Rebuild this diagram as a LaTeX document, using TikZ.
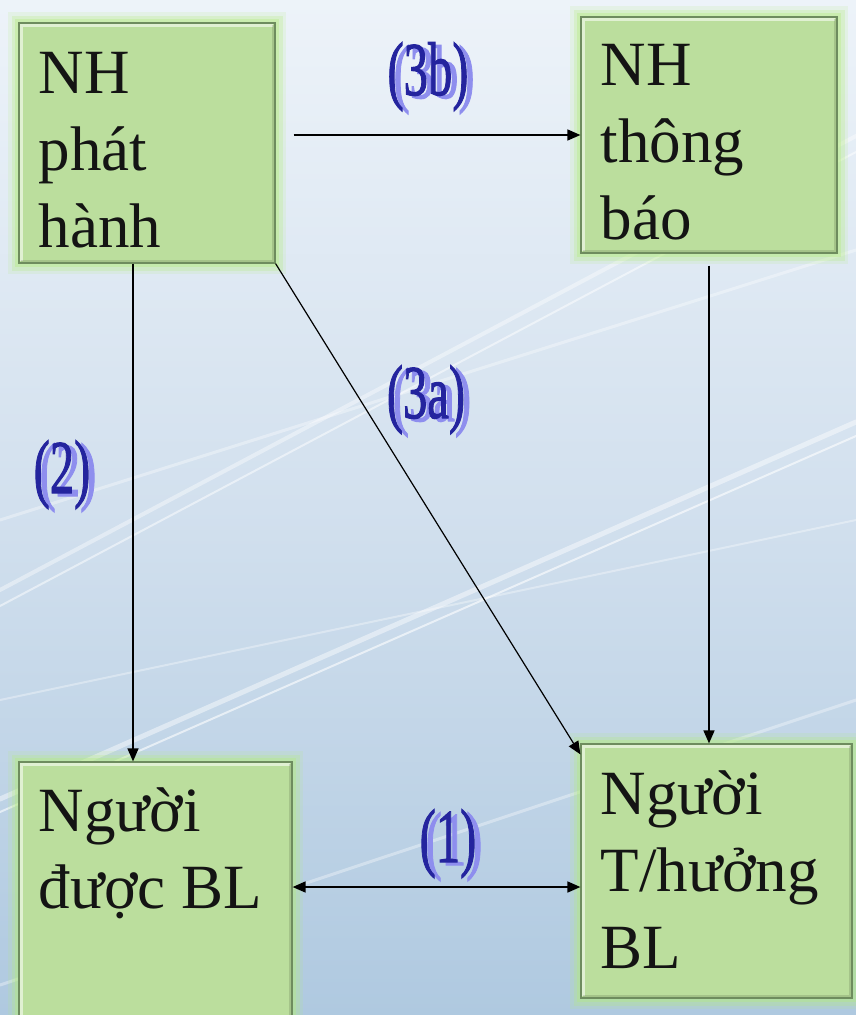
\documentclass[tikz,border=0pt]{standalone}
\usepackage{fontspec}
\usepackage{graphicx}
\setmainfont{Liberation Serif}
\newfontfamily\lblfont[FakeBold=1.6]{Liberation Serif}
\usetikzlibrary{arrows.meta,calc}
\definecolor{boxfill}{HTML}{BBDE9D}
\definecolor{boxedge}{HTML}{6E8C5E}
\definecolor{glowc}{HTML}{B4EC7C}
\definecolor{bgtop}{HTML}{EDF3F9}
\definecolor{bgmid}{HTML}{D2E0EE}
\definecolor{bgbot}{HTML}{AFC9E0}
\definecolor{lbldark}{HTML}{24249E}
\definecolor{lbllight}{HTML}{8E8EEE}
\newcommand{\lbltext}[1]{\makebox[0pt][l]{\hspace{6pt}\raisebox{-3pt}{\color{lbllight}\scalebox{0.64}[1]{#1}}}\color{lbldark}\scalebox{0.64}[1]{#1}}
\tikzset{
  box/.style={rectangle, inner sep=0pt, fill=boxfill, draw=boxedge, line width=1.2pt,
    preaction={draw=glowc, line width=22pt, draw opacity=0.15},
    preaction={draw=glowc, line width=15pt, draw opacity=0.25},
    preaction={draw=glowc, line width=8pt, draw opacity=0.35},
    path picture={
      \draw[white, opacity=0.55, line width=3pt]
        ([shift={(2pt,2pt)}]path picture bounding box.south west) |- ([shift={(-2pt,-2pt)}]path picture bounding box.north east);
      \draw[black, opacity=0.12, line width=3pt]
        ([shift={(2pt,2pt)}]path picture bounding box.south west) -| ([shift={(-2pt,-2pt)}]path picture bounding box.north east);
    }},
  boxtext/.style={anchor=north west, inner sep=0pt, align=left, text=black!92,
    font=\fontsize{63}{77}\selectfont},
  arr/.style={-{Triangle[length=13pt,width=11pt]}, line width=1.6pt, draw=black},
  lbl/.style={anchor=base, inner sep=0pt, font=\lblfont\fontsize{76}{76}\selectfont},
  streak/.style={draw=white, line cap=round}
}
\begin{document}
\begin{tikzpicture}[x=1pt,y=-1pt]
\useasboundingbox (0,0) rectangle (856,1015);
% background
\shade[top color=bgtop, bottom color=bgbot, middle color=bgmid] (0,0) rectangle (856,1015);
\begin{scope}
\clip (0,0) rectangle (856,1015);
\draw[streak, line width=5pt, opacity=0.45] (0,799) -- (856,422);
\draw[streak, line width=2pt, opacity=0.6] (0,812) -- (856,436);
\draw[streak, line width=4pt, opacity=0.4] (0,590) -- (856,136);
\draw[streak, line width=2pt, opacity=0.5] (0,606) -- (856,152);
\draw[streak, line width=3pt, opacity=0.35] (0,520) -- (856,250);
\draw[streak, line width=3pt, opacity=0.35] (0,985) -- (856,700);
\draw[streak, line width=2pt, opacity=0.35] (0,700) -- (856,520);
\end{scope}
% boxes
\node[box, minimum width=256pt, minimum height=240pt] (iss) at (147,143) {};
\node[box, minimum width=256pt, minimum height=236pt] (adv) at (709,135) {};
\node[box, minimum width=273pt, minimum height=268pt] (app) at (155.5,896) {};
\node[box, minimum width=271pt, minimum height=254pt] (ben) at (716.5,871) {};
\node[boxtext] (issT) at ([shift={(20pt,-17pt)}]iss.north west) {\strut NH\\phát\\hành};
\node[boxtext] (advT) at ([shift={(20pt,-15pt)}]adv.north west) {\strut NH\\thông\\báo};
\node[boxtext] (appT) at ([shift={(20pt,-16pt)}]app.north west) {\strut Người\\được BL};
\node[boxtext] (benT) at ([shift={(20pt,-17pt)}]ben.north west) {\strut Người\\T/hưởng\\BL};
% connectors
\draw[arr] ($(iss.east |- adv.center)+(18pt,0pt)$) -- (adv.west);
\coordinate (c2) at ($(iss.south)+(-14pt,0pt)$);
\draw[arr] (c2) -- (c2 |- app.north);
\draw[arr, line width=1.2pt] (iss.south east) -- ($(ben.north west)+(0pt,-11pt)$);
\coordinate (c4) at ($(adv.south)+(0pt,-12pt)$);
\draw[arr] (c4) -- (c4 |- ben.north);
\coordinate (c1) at ($(app.east)+(0pt,9pt)$);
\draw[arr, {Triangle[length=13pt,width=11pt]}-{Triangle[length=13pt,width=11pt]}] (c1) -- (c1 -| ben.west);
% labels
\node[lbl] (l3b) at (428,95) {\lbltext{(3b)}};
\node[lbl] (l3a) at (426,418) {\lbltext{(3a)}};
\node[lbl] (l2) at (62,493) {\lbltext{(2)}};
\node[lbl] (l1) at (448,862) {\lbltext{(1)}};
\end{tikzpicture}
\end{document}
